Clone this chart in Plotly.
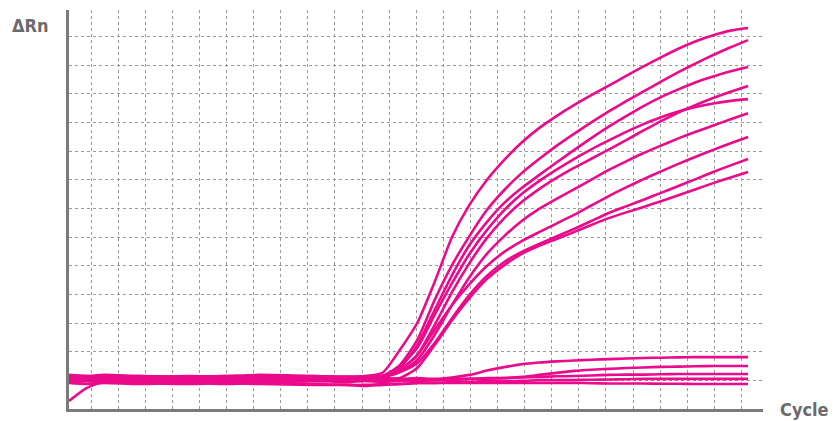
import plotly.graph_objects as go

CYCLES = [1, 2, 3, 5, 8, 10, 12, 15,
          17, 18, 19, 20, 21, 22, 23, 24, 25, 26, 27, 28,
          29, 30, 31, 32, 33, 34, 35, 36, 37, 38, 39, 40]

# Amplifying samples (delta Rn, one grid step = 1)
curve_a = [1.12, 1.08, 1.12, 1.08, 1.12, 1.12, 1.08, 1.12,
           1.12, 1.15, 1.26, 2.06, 3.00, 4.43, 6.00, 7.12, 7.99, 8.69, 9.30, 9.80,
           10.22, 10.60, 10.95, 11.28, 11.62, 11.95, 12.27, 12.57, 12.83, 13.04, 13.20, 13.29]
curve_b = [1.08, 1.12, 1.08, 1.12, 1.08, 1.08, 1.12, 1.08,
           1.08, 1.10, 1.15, 1.53, 2.41, 3.80, 5.02, 6.03, 6.94, 7.64, 8.23, 8.72,
           9.18, 9.60, 10.00, 10.38, 10.74, 11.08, 11.42, 11.75, 12.06, 12.35, 12.62, 12.87]
curve_c = [1.15, 1.12, 1.15, 1.12, 1.15, 1.12, 1.15, 1.12,
           1.10, 1.12, 1.15, 1.43, 2.23, 3.45, 4.67, 5.72, 6.52, 7.19, 7.71, 8.16,
           8.60, 9.03, 9.45, 9.85, 10.22, 10.57, 10.88, 11.15, 11.40, 11.60, 11.78, 11.93]
curve_d = [1.05, 1.08, 1.05, 1.08, 1.05, 1.08, 1.05, 1.08,
           1.08, 1.10, 1.12, 1.36, 1.88, 2.93, 4.08, 5.09, 5.96, 6.66, 7.22, 7.67,
           8.06, 8.41, 8.73, 9.05, 9.38, 9.72, 10.04, 10.34, 10.61, 10.85, 11.07, 11.27]
curve_e = [1.19, 1.15, 1.19, 1.15, 1.12, 1.15, 1.19, 1.15,
           1.12, 1.12, 1.15, 1.50, 2.13, 3.28, 4.39, 5.41, 6.24, 6.94, 7.50, 7.95,
           8.35, 8.72, 9.06, 9.37, 9.67, 9.94, 10.18, 10.38, 10.54, 10.66, 10.75, 10.81]
curve_f = [1.01, 1.05, 1.01, 1.05, 1.01, 1.05, 1.01, 1.05,
           1.05, 1.08, 1.12, 1.29, 1.71, 2.58, 3.63, 4.60, 5.41, 6.03, 6.56, 6.98,
           7.33, 7.66, 8.00, 8.34, 8.64, 8.93, 9.19, 9.44, 9.67, 9.89, 10.11, 10.32]
curve_g = [1.12, 1.15, 1.12, 1.15, 1.12, 1.15, 1.12, 1.15,
           1.12, 1.12, 1.12, 1.36, 1.88, 2.76, 3.63, 4.36, 4.99, 5.48, 5.86, 6.17,
           6.47, 6.77, 7.10, 7.43, 7.73, 8.02, 8.29, 8.55, 8.80, 9.04, 9.27, 9.49]
curve_h = [0.98, 1.01, 0.98, 1.01, 0.98, 1.01, 0.98, 1.01,
           1.05, 1.08, 1.12, 1.29, 1.60, 2.30, 3.17, 3.98, 4.64, 5.13, 5.48, 5.76,
           6.02, 6.28, 6.56, 6.84, 7.07, 7.30, 7.54, 7.78, 8.02, 8.27, 8.50, 8.72]
curve_i = [0.94, 0.98, 0.94, 0.98, 0.94, 0.98, 0.94, 0.98,
           1.01, 1.03, 1.05, 1.08, 1.43, 2.23, 3.10, 3.87, 4.53, 5.02, 5.41, 5.69,
           5.93, 6.17, 6.42, 6.66, 6.86, 7.05, 7.25, 7.46, 7.67, 7.88, 8.08, 8.27]

# Non-amplifying samples
flat_1 = [1.05, 1.08, 1.05, 1.08, 1.05, 1.08, 1.05, 1.08,
          1.05, 1.05, 1.08, 1.05, 1.08, 1.05, 1.10, 1.19, 1.34, 1.46, 1.56, 1.62,
          1.66, 1.69, 1.72, 1.74, 1.76, 1.78, 1.79, 1.80, 1.81, 1.81, 1.81, 1.81]
flat_2 = [1.01, 0.98, 1.01, 0.98, 1.01, 0.98, 1.01, 0.98,
          1.01, 1.01, 0.98, 1.01, 0.98, 1.01, 1.01, 1.05, 1.05, 1.08, 1.12, 1.19,
          1.26, 1.33, 1.37, 1.40, 1.43, 1.45, 1.47, 1.48, 1.49, 1.50, 1.50, 1.50]
flat_3 = [0.94, 0.98, 0.94, 0.98, 0.94, 0.98, 0.94, 0.98,
          0.94, 0.98, 0.94, 0.98, 1.01, 1.01, 1.05, 1.05, 1.08, 1.08, 1.10, 1.12,
          1.14, 1.15, 1.17, 1.19, 1.20, 1.20, 1.21, 1.22, 1.22, 1.22, 1.22, 1.22]
flat_4 = [0.91, 0.87, 0.91, 0.87, 0.91, 0.87, 0.91, 0.87,
          0.84, 0.84, 0.87, 0.87, 0.91, 0.91, 0.94, 0.94, 0.98, 0.98, 0.98, 1.01,
          1.01, 1.01, 1.02, 1.03, 1.04, 1.05, 1.05, 1.05, 1.05, 1.05, 1.05, 1.05]
flat_5 = [0.28, 0.73, 0.94, 0.91, 0.87, 0.91, 0.87, 0.84,
          0.84, 0.80, 0.84, 0.87, 0.91, 0.91, 0.91, 0.91, 0.91, 0.91, 0.91, 0.91,
          0.91, 0.91, 0.90, 0.89, 0.89, 0.89, 0.88, 0.88, 0.87, 0.87, 0.87, 0.87]

SERIES = [flat_5, flat_4, flat_3, flat_2, flat_1,
          curve_i, curve_h, curve_g, curve_f, curve_e, curve_d, curve_c, curve_b, curve_a]

LINE_COLOR = "#EA0A8C"
AXIS_COLOR = "#7b7b7b"
GRID_COLOR = "#9a9a9a"
FONT = "DejaVu Sans Condensed, DejaVu Sans, sans-serif"

fig = go.Figure()
for s in SERIES:
    fig.add_trace(go.Scatter(
        x=CYCLES, y=s, mode="lines",
        line=dict(color=LINE_COLOR, width=2.6, shape="spline", smoothing=0.6),
        hoverinfo="skip", showlegend=False,
    ))

fig.update_layout(
    width=835, height=421,
    margin=dict(l=69, r=72, t=10, b=12),
    paper_bgcolor="white", plot_bgcolor="white",
    showlegend=False,
    xaxis=dict(
        range=[1, 40.86], showticklabels=False, ticks="",
        showgrid=True, gridcolor=GRID_COLOR, gridwidth=1, griddash="dot",
        tick0=2.264, dtick=1.5566, zeroline=False,
        showline=True, linecolor=AXIS_COLOR, linewidth=2.6,
    ),
    yaxis=dict(
        range=[0, 13.92], showticklabels=False, ticks="",
        showgrid=True, gridcolor=GRID_COLOR, gridwidth=1, griddash="dot",
        tick0=0, dtick=1, zeroline=False,
        showline=True, linecolor=AXIS_COLOR, linewidth=2.6,
    ),
    annotations=[
        dict(text="<b>ΔRn</b>", xref="paper", yref="paper", x=-0.085, y=0.962,
             xanchor="left", yanchor="middle", showarrow=False,
             font=dict(family=FONT, size=18, color="#6b6b6b")),
        dict(text="<b>Cycle</b>", xref="paper", yref="paper", x=1.0216, y=0.0,
             xanchor="left", yanchor="middle", showarrow=False,
             font=dict(family=FONT, size=18, color="#6b6b6b")),
    ],
)

fig.write_html("out.html", config={"displayModeBar": False},
               post_script="document.body.style.margin='0';document.body.style.padding='0';")
